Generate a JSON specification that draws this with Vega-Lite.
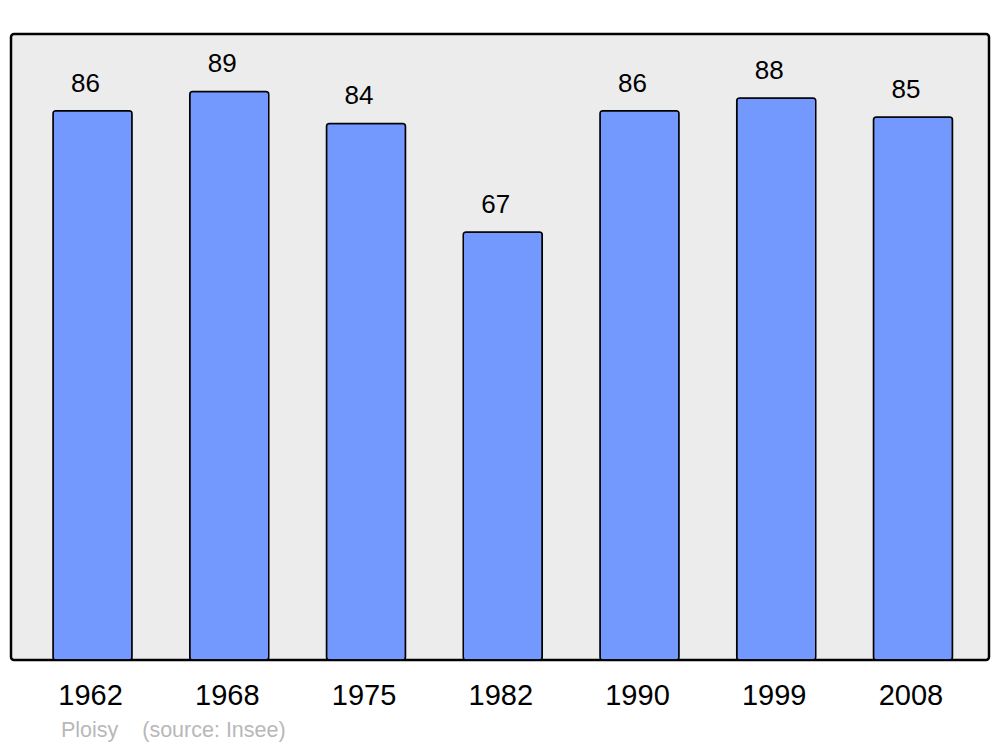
{
  "$schema": "https://vega.github.io/schema/vega-lite/v6.json",
  "width": 978,
  "height": 626,
  "autosize": {"type": "none"},
  "padding": {"left": 11, "top": 34, "right": 11, "bottom": 87},
  "background": "#ffffff",
  "config": {
    "font": "Liberation Sans",
    "view": {"fill": "#ececec", "stroke": "#000000", "strokeWidth": 2.5, "cornerRadius": 3}
  },
  "title": {
    "text": "Ploisy\u00a0\u00a0\u00a0\u00a0(source: Insee)",
    "orient": "bottom",
    "anchor": "start",
    "frame": "group",
    "dx": 50,
    "offset": 10,
    "fontSize": 21.5,
    "fontWeight": "normal",
    "color": "#b8b8b8",
    "font": "Liberation Sans"
  },
  "data": {
    "values": [
      {"year": "1962", "population": 86},
      {"year": "1968", "population": 89},
      {"year": "1975", "population": 84},
      {"year": "1982", "population": 67},
      {"year": "1990", "population": 86},
      {"year": "1999", "population": 88},
      {"year": "2008", "population": 85}
    ]
  },
  "encoding": {
    "x": {
      "field": "year",
      "type": "ordinal",
      "scale": {"paddingInner": 0.422, "paddingOuter": 0.287, "align": 0.535},
      "axis": {
        "title": null,
        "labelAngle": 0,
        "ticks": false,
        "domain": false,
        "labelFontSize": 29,
        "labelColor": "#000000",
        "labelPadding": 21,
        "labelOffset": -2,
        "labelFont": "Liberation Sans"
      }
    },
    "y": {
      "field": "population",
      "type": "quantitative",
      "scale": {"domain": [0, 98], "nice": false},
      "axis": null
    }
  },
  "layer": [
    {
      "mark": {"type": "bar", "fill": "#7399ff", "stroke": "#000000", "strokeWidth": 1.5, "cornerRadius": 3}
    },
    {
      "mark": {"type": "text", "baseline": "alphabetic", "dy": -19, "dx": -7, "fontSize": 26, "color": "#000000", "font": "Liberation Sans"},
      "encoding": {"text": {"field": "population", "type": "quantitative"}}
    }
  ]
}
